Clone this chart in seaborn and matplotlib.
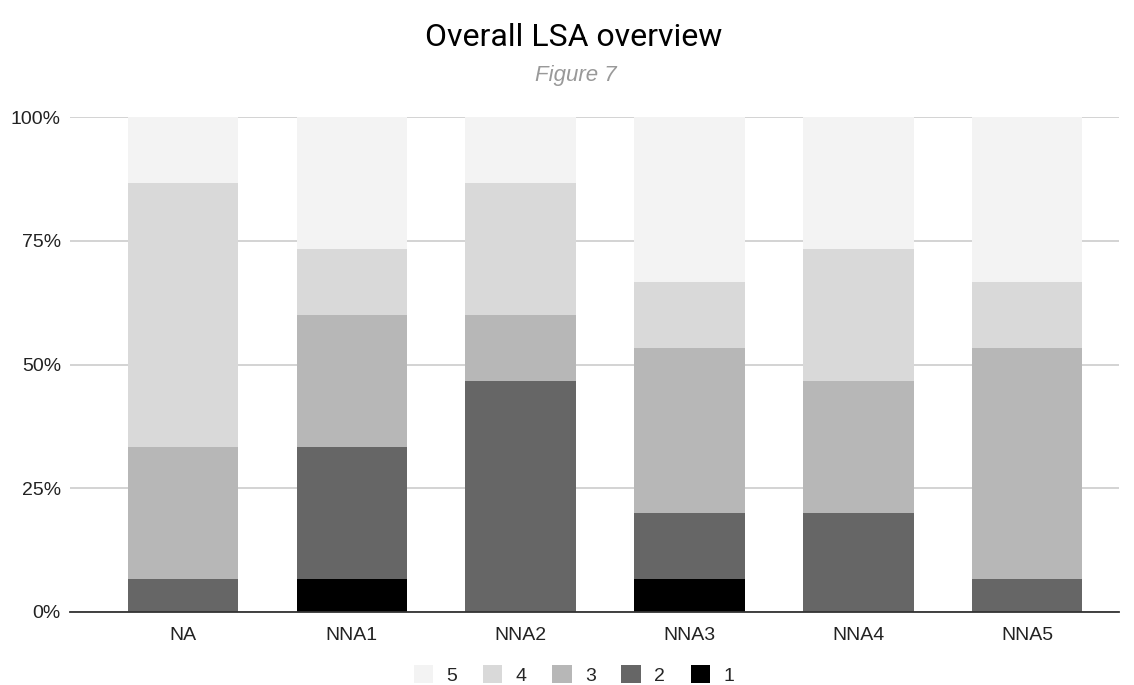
import matplotlib
matplotlib.use("Agg")
import matplotlib.pyplot as plt
import seaborn as sns
import numpy as np
import pandas as pd
from matplotlib.patches import Patch

categories = ["NA", "NNA1", "NNA2", "NNA3", "NNA4", "NNA5"]
levels = ["1", "2", "3", "4", "5"]
# response counts per category (out of 15 responses)
count_1 = [0, 1, 0, 1, 0, 0]
count_2 = [1, 4, 7, 2, 3, 1]
count_3 = [4, 4, 2, 5, 4, 7]
count_4 = [8, 2, 4, 2, 4, 2]
count_5 = [2, 4, 2, 5, 4, 5]
colors = {"1": "#000000", "2": "#666666", "3": "#b7b7b7", "4": "#d9d9d9", "5": "#f3f3f3"}

counts = np.array([count_1, count_2, count_3, count_4, count_5], dtype=float)
pct = counts / counts.sum(axis=0) * 100
cum = np.cumsum(pct, axis=0)

sns.set_theme(style="white")
plt.rcParams['font.family'] = ['Liberation Sans', 'DejaVu Sans']

fig = plt.figure(figsize=(11.34, 6.85), dpi=100)
ax = fig.add_axes([70/1134, 1 - 612/685, (1119-70)/1134, (612-117)/685])

for i in range(len(levels) - 1, -1, -1):
    df = pd.DataFrame({"cat": categories, "val": cum[i]})
    sns.barplot(data=df, x="cat", y="val", color=colors[levels[i]], ax=ax,
                width=0.655, saturation=1, linewidth=0, zorder=2 + (4 - i) * 0.01)

ax.set_ylim(0, 100)
ax.set_xlim(-0.67, 5.545)
ax.set_yticks([0, 25, 50, 75, 100])
ax.set_yticklabels(["0%", "25%", "50%", "75%", "100%"])
ax.yaxis.grid(True, color="#cccccc", linewidth=1.2, zorder=0)
ax.set_axisbelow(True)
for s in ["top", "right", "left"]:
    ax.spines[s].set_visible(False)
ax.spines["bottom"].set_color("#333333")
ax.spines["bottom"].set_linewidth(1.3)
ax.spines["bottom"].set_zorder(5)
ax.tick_params(axis="both", length=0, labelsize=14, colors="#222222")
ax.tick_params(axis="x", pad=11)
ax.tick_params(axis="y", pad=6.5)
ax.set_xlabel("")
ax.set_ylabel("")

fig.text(574/1134, 1 - 38/685, "Overall LSA overview", ha="center", va="center",
         fontsize=23, family=["Roboto", "DejaVu Sans"], color="#000000")
fig.text(576/1134, 1 - 76/685, "Figure 7", ha="center", va="center",
         fontsize=16, style="italic", color="#999999")

handles = [Patch(facecolor=colors[l], edgecolor="none", label=l) for l in levels[::-1]]
fig.legend(handles=handles, loc="center", bbox_to_anchor=(574/1134, 1 - 675/685), ncol=5,
           frameon=False, fontsize=14, handlelength=1.0, handleheight=1.0,
           columnspacing=1.3, handletextpad=0.7, borderpad=0, borderaxespad=0)

fig.savefig("out.png", dpi=100)
